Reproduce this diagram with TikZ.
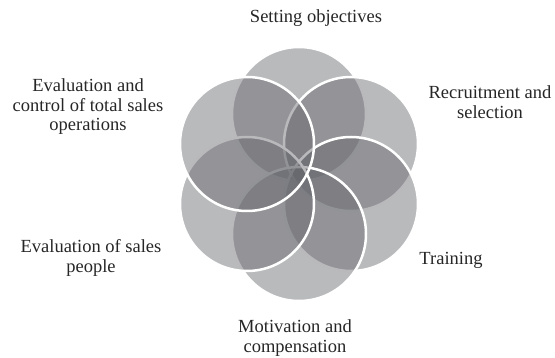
\documentclass[tikz,border=0pt]{standalone}
\usepackage{fontspec}
\setmainfont{Liberation Serif}
\definecolor{petalgray}{RGB}{100,101,107}
\tikzset{
  petal/.style={circle, minimum size=134pt, inner sep=0pt, fill=petalgray, fill opacity=0.45, draw=white, line width=2.5pt},
  lbl/.style={align=center, text=black!85, font=\fontsize{18.5}{19.5}\selectfont, inner sep=0pt}
}
\begin{document}
\begin{tikzpicture}[x=1pt,y=-1pt]
\useasboundingbox (0,0) rectangle (555,358);
% petals, drawn in order so later ones cover earlier outlines
\node[petal] (c1) at (299,114) {};
\node[petal] (c2) at (351,144) {};
\node[petal] (c3) at (351,204) {};
\node[petal] (c4) at (299,234) {};
\node[petal] (c5) at (247,204) {};
\node[petal] (c6) at (247,144) {};
% labels
\node[lbl] (l1) at (316,17.7) {Setting objectives};
\node[lbl] (l2) at (490,102) {Recruitment and\\selection};
\node[lbl] (l3) at (451,260.5) {Training};
\node[lbl] (l4) at (295,338) {Motivation and\\compensation};
\node[lbl] (l5) at (91,258) {Evaluation of sales\\people};
\node[lbl] (l6) at (88,107) {Evaluation and\\control of total sales\\operations};
\end{tikzpicture}
\end{document}
